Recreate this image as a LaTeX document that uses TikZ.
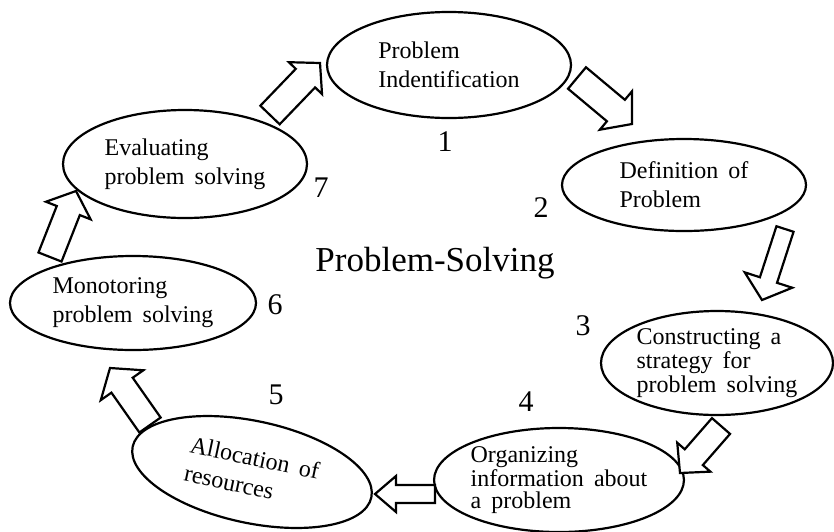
\documentclass[tikz,border=0pt]{standalone}
\usepackage{fontspec}
\setmainfont{Liberation Serif}
\usetikzlibrary{shapes.geometric,calc}

% hollow block arrow: tail, tip, half shaft width, half head width
\newcommand{\blockarrow}[4]{%
    \coordinate (hb) at ($(#2)!10.5pt!(#1)$);
    \draw[blockline] ($(#1)!#3!90:(#2)$) -- ($(hb)!#3!90:(#2)$)
        -- ($(hb)!#4!90:(#2)$) -- (#2) -- ($(hb)!#4!-90:(#2)$)
        -- ($(hb)!#3!-90:(#2)$) -- ($(#1)!#3!-90:(#2)$) -- cycle;
}
\newcommand{\widewords}{\spaceskip=0.42em plus 0.1em\relax}

\begin{document}
\begin{tikzpicture}[
    x=0.5pt, y=-0.5pt,
    phase/.style={
        ellipse, draw=black, line width=1.1pt,
        inner sep=0pt, align=left, minimum width=122pt,
        font=\fontsize{12}{14.5}\selectfont\widewords
    },
    tight/.style={font=\fontsize{12}{10.75}\selectfont\widewords},
    num/.style={font=\fontsize{15}{18}\selectfont},
    title/.style={font=\fontsize{17.5}{21}\selectfont},
    blockline/.style={draw=black, line width=1.1pt, line join=miter, fill=white}
]
\useasboundingbox (0,0) rectangle (834,531);

% Phases of the cycle
\node[phase, minimum height=53pt] (ident) at (449,65) {Problem\\Indentification};
\node[phase, minimum height=46pt] (defn) at (684,185) {Definition of\\Problem};
\node[phase, tight, minimum width=116pt, minimum height=52pt] (strat) at (717,363)
    {Constructing a\\strategy for\\problem solving};
\node[phase, tight, minimum width=121pt, minimum height=52pt] (org) at (559,480)
    {Organizing\\information about\\a problem};
\node[phase, minimum height=51pt, rotate=-12] (alloc) at (252,472) {Allocation of\\resources};
\node[phase, minimum width=123pt, minimum height=47pt] (monit) at (133,303)
    {Monotoring\\problem solving};
\node[phase, minimum height=54pt] (eval) at (185,164) {Evaluating\\problem solving};

% Title
\node[title] (ps) at (435,263) {Problem-Solving};

% Step numbers
\node[num] (n1) at (445,142) {1};
\node[num] (n2) at (541,208) {2};
\node[num] (n3) at (583,326) {3};
\node[num] (n4) at (526,402) {4};
\node[num] (n5) at (276,395) {5};
\node[num] (n6) at (275,305) {6};
\node[num] (n7) at (321,188) {7};

% Arrow ends
\coordinate (t-ident) at (577,78);  \coordinate (h-defn) at (632,124);
\coordinate (t-defn) at (785,229);  \coordinate (h-strat) at (762,300);
\coordinate (t-strat) at (721,426); \coordinate (h-org) at (680,473);
\coordinate (t-org) at (435,494);   \coordinate (h-alloc) at (375,494);
\coordinate (t-alloc) at (150,425); \coordinate (h-monit) at (110,368);
\coordinate (t-monit) at (50,257);  \coordinate (h-eval) at (76,191);
\coordinate (t-eval) at (270,115);  \coordinate (h-ident) at (320,63);

% Block arrows
\blockarrow{t-ident}{h-defn}{7pt}{12.5pt}
\blockarrow{t-defn}{h-strat}{4.5pt}{12.5pt}
\blockarrow{t-strat}{h-org}{6pt}{11pt}
\blockarrow{t-org}{h-alloc}{4.5pt}{9pt}
\blockarrow{t-alloc}{h-monit}{6.5pt}{13pt}
\blockarrow{t-monit}{h-eval}{6.2pt}{12pt}
\blockarrow{t-eval}{h-ident}{6.7pt}{11.5pt}

\end{tikzpicture}
\end{document}
